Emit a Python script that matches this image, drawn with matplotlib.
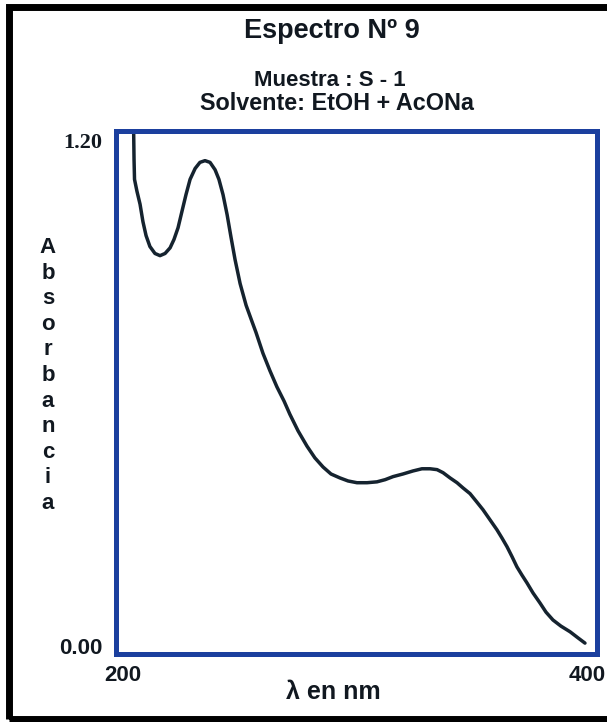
import matplotlib
matplotlib.use("Agg")
import matplotlib.pyplot as plt
import matplotlib.patches as mpatches
import matplotlib.transforms as mtransforms

# Spectrum readings: wavelength (nm) and absorbance
wavelength = [207.3, 207.5, 207.7, 208.7, 210.0, 211.2, 212.5, 214.1, 216.2, 218.3,
              220.4, 222.5, 224.1, 225.8, 227.4, 229.1, 230.8, 232.9, 234.9, 237.0,
              239.1, 241.2, 242.8, 244.5, 246.2, 247.8, 249.5, 251.6, 254.1, 256.6,
              258.2, 261.1, 264.0, 266.9, 269.9, 272.3, 275.7, 279.4, 282.7, 286.1,
              289.4, 293.1, 296.5, 300.2, 304.4, 308.5, 311.9, 315.2, 319.3, 323.5,
              327.2, 330.6, 333.5, 336.0, 338.9, 341.8, 344.3, 347.2, 349.7, 352.6,
              355.5, 358.4, 360.5, 362.6, 364.7, 366.7, 368.8, 370.9, 373.4, 376.3,
              378.8, 381.7, 385.0, 388.8, 392.1, 395.0]
absorbance = [1.215, 1.135, 1.089, 1.062, 1.032, 0.992, 0.960, 0.935, 0.919, 0.914,
              0.919, 0.932, 0.951, 0.978, 1.015, 1.054, 1.089, 1.114, 1.128, 1.132,
              1.128, 1.111, 1.089, 1.054, 1.008, 0.957, 0.905, 0.850, 0.800, 0.762,
              0.738, 0.690, 0.650, 0.613, 0.580, 0.550, 0.512, 0.477, 0.450, 0.429,
              0.413, 0.404, 0.397, 0.393, 0.393, 0.395, 0.400, 0.407, 0.413, 0.420,
              0.425, 0.425, 0.423, 0.416, 0.404, 0.393, 0.381, 0.368, 0.351, 0.331,
              0.308, 0.285, 0.266, 0.246, 0.223, 0.200, 0.181, 0.163, 0.140, 0.117,
              0.096, 0.078, 0.064, 0.051, 0.037, 0.025]

x_ticks = [200, 400]
x_tick_labels = ["200", "400"]
y_ticks = [0.0, 1.2]
y_tick_labels = ["0.00", "1.20"]

title = "Espectro Nº 9"
sample_line = "Muestra : S - 1"
solvent_line = "Solvente: EtOH + AcONa"
x_label = "λ en nm"
y_label = "Absorbancia"

W, H = 607, 722
fig = plt.figure(figsize=(W / 100, H / 100), dpi=100)
fig.patch.set_facecolor("white")

blue = "#1b3f9e"
ink = "#15232f"
text_col = "#111820"
sans = ["Liberation Sans", "DejaVu Sans"]
serif = ["Liberation Serif", "DejaVu Serif"]

# plot area in pixel terms
left, right, top, bottom = 116, 597, 131, 654
ax = fig.add_axes([left / W, 1 - bottom / H, (right - left) / W, (bottom - top) / H])
ax.plot(wavelength, absorbance, color=ink, lw=2.5, solid_capstyle="round",
        solid_joinstyle="round")
ax.set_xlim(200, 400)
ax.set_ylim(0, 1.2)
for s in ax.spines.values():
    s.set_color(blue)
    s.set_linewidth(3.6)

ax.set_xticks(x_ticks)
ax.set_xticklabels(x_tick_labels)
ax.set_yticks(y_ticks)
ax.set_yticklabels(y_tick_labels)
ax.tick_params(length=0)
ax.tick_params(axis="x", pad=8)
ax.tick_params(axis="y", pad=10)
for lab in ax.get_xticklabels() + ax.get_yticklabels():
    lab.set_fontfamily(sans)
    lab.set_fontweight("bold")
    lab.set_fontsize(16)
    lab.set_color(text_col)


def shift(label, dx, dy):
    label.set_transform(label.get_transform() +
                        mtransforms.ScaledTranslation(dx / 100, dy / 100, fig.dpi_scale_trans))


xl = ax.get_xticklabels()
shift(xl[0], 7, 0)
shift(xl[1], -10, 0)
yl = ax.get_yticklabels()
shift(yl[0], 0, 8)
shift(yl[1], 0, -9)
yl[1].set_fontfamily(serif)

fig.text(332 / W, 1 - 31 / H, title, ha="center", va="center",
         fontsize=19.5, fontweight="bold", family=sans, color=text_col)
fig.text(330 / W, 1 - 81 / H, sample_line, ha="center", va="center",
         fontsize=16, fontweight="bold", family=sans, color=text_col)
fig.text(337 / W, 1 - 103 / H, solvent_line, ha="center", va="center",
         fontsize=16.8, fontweight="bold", family=sans, color=text_col)
fig.text(333 / W, 1 - 692 / H, x_label, ha="center", va="center",
         fontsize=18, fontweight="bold", family=sans, color=text_col)

# vertical stacked letters for the y label
for i, ch in enumerate(y_label):
    fig.text(48 / W, 1 - (253 + 25.6 * i) / H, ch, ha="center", va="baseline",
             fontsize=16, fontweight="bold", family=sans, color=text_col)

# outer black frame (open on the right edge)
frame = mpatches.Rectangle((8.5 / W, 3 / H), 1.2, 1 - 10 / H,
                           transform=fig.transFigure, fill=False,
                           edgecolor="black", lw=5.0, clip_on=False)
fig.patches.append(frame)

fig.savefig("out.png", dpi=100)
